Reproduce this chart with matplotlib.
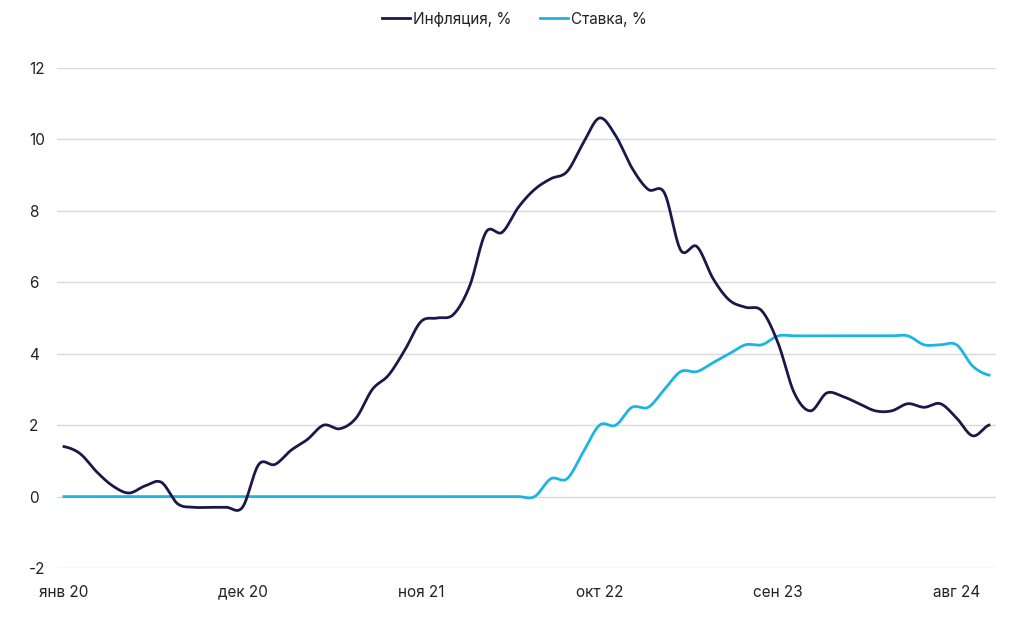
import numpy as np
import matplotlib
matplotlib.use('Agg')
from matplotlib import pyplot as plt

plt.rcParams['font.family'] = ['Inter', 'DejaVu Sans']
plt.rcParams['axes.unicode_minus'] = False

# monthly values, Jan 2020 .. Oct 2024
inflation = [1.4, 1.2, 0.7, 0.3, 0.1, 0.3, 0.4, -0.2, -0.3, -0.3, -0.3, -0.3,
             0.9, 0.9, 1.3, 1.6, 2.0, 1.9, 2.2, 3.0, 3.4, 4.1, 4.9, 5.0,
             5.1, 5.9, 7.4, 7.4, 8.1, 8.6, 8.9, 9.1, 9.9, 10.6, 10.1, 9.2,
             8.6, 8.5, 6.9, 7.0, 6.1, 5.5, 5.3, 5.2, 4.3, 2.9, 2.4, 2.9,
             2.8, 2.6, 2.4, 2.4, 2.6, 2.5, 2.6, 2.2, 1.7, 2.0]
rate = [0.0] * 30 + [0.5, 0.5, 1.25, 2.0, 2.0, 2.5,
                     2.5, 3.0, 3.5, 3.5, 3.75, 4.0, 4.25, 4.25, 4.5, 4.5, 4.5, 4.5,
                     4.5, 4.5, 4.5, 4.5, 4.5, 4.25, 4.25, 4.25, 3.65, 3.4]
tick_pos = [0, 11, 22, 33, 44, 55]
tick_labels = ['янв 20', 'дек 20', 'ноя 21', 'окт 22', 'сен 23', 'авг 24']


def smooth(y, n=24):
    # catmull-rom curve through the monthly points
    y = np.asarray(y, dtype=float)
    p = np.concatenate([[y[0]], y, [y[-1]]])
    xs, ys = [], []
    t = np.linspace(0, 1, n, endpoint=False)
    for i in range(len(y) - 1):
        p0, p1, p2, p3 = p[i], p[i + 1], p[i + 2], p[i + 3]
        v = 0.5 * ((2 * p1) + (-p0 + p2) * t + (2 * p0 - 5 * p1 + 4 * p2 - p3) * t ** 2
                   + (-p0 + 3 * p1 - 3 * p2 + p3) * t ** 3)
        xs.append(i + t)
        ys.append(v)
    xs.append([len(y) - 1])
    ys.append([y[-1]])
    return np.concatenate(xs), np.concatenate(ys)


fig = plt.figure(figsize=(10.24, 6.19), dpi=100)
ax = fig.add_axes([57 / 1024, 51 / 619, 939 / 1024, 500 / 619])

x1, y1 = smooth(inflation)
x2, y2 = smooth(rate)
ax.plot(x1, y1, color='#1c1749', lw=2.0, label='Инфляция, %', zorder=3)
ax.plot(x2, y2, color='#1db4e2', lw=2.0, label='Ставка, %', zorder=2)

ax.set_xlim(-0.43, 57.43)
ax.set_ylim(-2, 12)
ax.set_yticks(range(-2, 13, 2))
ax.set_xticks(tick_pos)
ax.set_xticklabels(tick_labels)
ax.grid(axis='y', color='#d9d9d9', lw=1)
ax.set_axisbelow(True)
for s in ax.spines.values():
    s.set_visible(False)
ax.tick_params(axis='y', length=0, pad=20, labelsize=11, labelcolor='#222222')
ax.tick_params(axis='x', length=0, pad=12, labelsize=11, labelcolor='#222222')
for lbl in ax.get_yticklabels():
    lbl.set_horizontalalignment('left')

ax.legend(loc='upper center', bbox_to_anchor=(0.487, 1.14), ncol=2, frameon=False,
          fontsize=11, handlelength=1.8, handletextpad=0.2, columnspacing=1.9,
          labelcolor='#222222')

fig.savefig('out.png', dpi=100)
